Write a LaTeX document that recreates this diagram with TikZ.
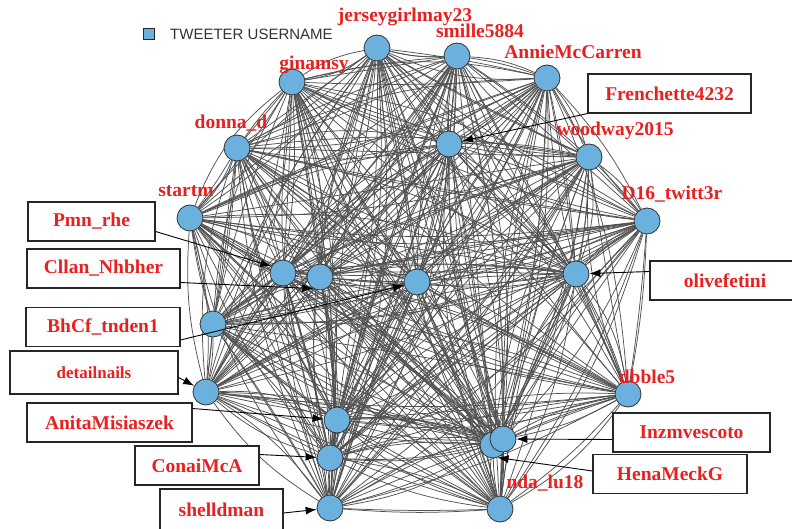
\documentclass[tikz,border=0pt]{standalone}
\usepackage{fontspec}
\setmainfont{Liberation Serif}
\newfontfamily\legendfont{Liberation Sans}
\usetikzlibrary{arrows.meta,backgrounds,calc}

\definecolor{userblue}{RGB}{108,176,222}
\definecolor{userred}{RGB}{234,32,32}

\tikzset{
  user/.style={circle,draw=black!80,fill=userblue,line width=0.8pt,minimum size=26pt,inner sep=0pt},
  tie/.style={draw=black!68,line width=0.75pt},
  uname/.style={text=userred,font=\fontsize{19.5}{20}\selectfont\bfseries,inner sep=0pt},
  namebox/.style={uname,draw=black!85,line width=1.1pt,fill=white,minimum height=39pt},
  pointer/.style={-{Latex[length=11pt,width=8pt]},line width=0.9pt,black}
}

\begin{document}
\begin{tikzpicture}[x=1pt,y=-1pt]
  \useasboundingbox (0,0) rectangle (792,529);

  % users
  \node[user] (jersey) at (377,48) {};
  \node[user] (smille) at (457,56) {};
  \node[user] (annie)  at (547,78) {};
  \node[user] (gina)   at (292,82) {};
  \node[user] (donna)  at (237,148) {};
  \node[user] (french) at (449,144) {};
  \node[user] (woodway) at (589,157) {};
  \node[user] (startm) at (190,218) {};
  \node[user] (twitt)  at (647,221) {};
  \node[user] (pmn)    at (283,273) {};
  \node[user] (cllan)  at (320,277) {};
  \node[user] (tnden)  at (417,282) {};
  \node[user] (olive)  at (576,274) {};
  \node[user] (nolabel) at (213,324) {};
  \node[user] (detail) at (206,392) {};
  \node[user] (dbble)  at (628,394) {};
  \node[user] (anita)  at (337,420) {};
  \node[user] (hena)   at (493,445) {};
  \node[user] (inzm)   at (503,439) {};
  \node[user] (conai)  at (330,458) {};
  \node[user] (nda)    at (500,509) {};
  \node[user] (shell)  at (330,508) {};

  % ties between all users, two passes
  \begin{pgfonlayer}{background}
    \fill[white] (0,0) rectangle (792,529);
    \foreach \a [count=\i] in {jersey,smille,annie,gina,donna,french,woodway,startm,twitt,pmn,cllan,tnden,olive,nolabel,detail,dbble,anita,hena,inzm,conai,nda,shell}{
      \foreach \b [count=\j] in {jersey,smille,annie,gina,donna,french,woodway,startm,twitt,pmn,cllan,tnden,olive,nolabel,detail,dbble,anita,hena,inzm,conai,nda,shell}{
        \ifnum\j>\i
          \pgfmathtruncatemacro\bnd{mod(\i*7+\j*11,25)-12}
          \pgfmathtruncatemacro\bndb{mod(\i*13+\j*5,31)-15}
          \draw[tie] (\a) to[bend left=\bnd] (\b);
          \draw[tie] (\a) to[bend right=\bndb] (\b);
        \fi
      }
    }
  \end{pgfonlayer}

  % names over the users
  \node[uname] (l-jersey) at (405,17) {jerseygirlmay23};
  \node[uname] (l-smille) at (480,31) {smille5884};
  \node[uname] (l-annie) at (573,52) {AnnieMcCarren};
  \node[uname] (l-gina) at (314,65) {ginamsy};
  \node[uname] (l-donna) at (231,123) {donna\_d};
  \node[uname] (l-woodway) at (615,131) {woodway2015};
  \node[uname] (l-startm) at (186,191) {startm};
  \node[uname] (l-twitt) at (672,194) {D16\_twitt3r};
  \node[uname] (l-dbble) at (647,377) {dbble5};
  \node[uname] (l-nda) at (545,483) {nda\_lu18};

  % legend
  \node[draw=black!85,fill=userblue,line width=0.8pt,minimum size=11pt,inner sep=0pt] (key) at (149,34) {};
  \node[anchor=west,text=black!80,font=\legendfont\fontsize{15}{15}\selectfont,inner sep=0pt] (keytext) at (170,34) {TWEETER USERNAME};

  % boxed names
  \node[namebox,minimum width=163pt] (frenchbox) at (669.5,93.5) {Frenchette4232};
  \node[namebox,minimum width=127pt] (pmnbox) at (91.5,221.5) {Pmn\_rhe};
  \node[namebox,minimum width=153pt] (cllanbox) at (103.5,268.5) {Cllan\_Nhbher};
  \node[namebox,minimum width=154pt] (bhcfbox) at (103,327) {BhCf\_tnden1};
  \node[namebox,minimum width=168pt,minimum height=43pt,font=\fontsize{17}{17}\selectfont\bfseries] (detailbox) at (94,372.5) {detailnails};
  \node[namebox,minimum width=165pt] (anitabox) at (109.5,422.5) {AnitaMisiaszek};
  \node[namebox,minimum width=124pt] (conaibox) at (197,465.5) {ConaiMcA};
  \node[namebox,minimum width=123pt,minimum height=42pt] (shellbox) at (221.5,510) {shelldman};
  \node[namebox,minimum width=150pt] (olivebox) at (725,280.5) {olivefetini};
  \node[namebox,minimum width=157pt] (inzmbox) at (691.5,432.5) {Inzmvescoto};
  \node[namebox,minimum width=154pt] (henabox) at (670,474) {HenaMeckG};

  % pointers
  \draw[pointer] (frenchbox.south west) -- (french);
  \draw[pointer] ($(pmnbox.east)+(0,10)$) -- (pmn.150);
  \draw[pointer] ($(cllanbox.east)+(0,14)$) -- (cllan.-120);
  \draw[pointer] ($(bhcfbox.east)+(0,13)$) -- (tnden);
  \draw[pointer] ($(detailbox.east)+(0,5)$) -- (detail);
  \draw[pointer] ($(anitabox.east)+(0,-14)$) -- (anita);
  \draw[pointer] ($(conaibox.east)+(0,-11)$) -- (conai);
  \draw[pointer] ($(shellbox.east)+(0,3)$) -- (shell);
  \draw[pointer] ($(olivebox.west)+(0,-9)$) -- (olive);
  \draw[pointer] ($(inzmbox.west)+(0,7)$) -- (inzm);
  \draw[pointer] ($(henabox.west)+(0,-3)$) -- (hena.-70);
\end{tikzpicture}
\end{document}
